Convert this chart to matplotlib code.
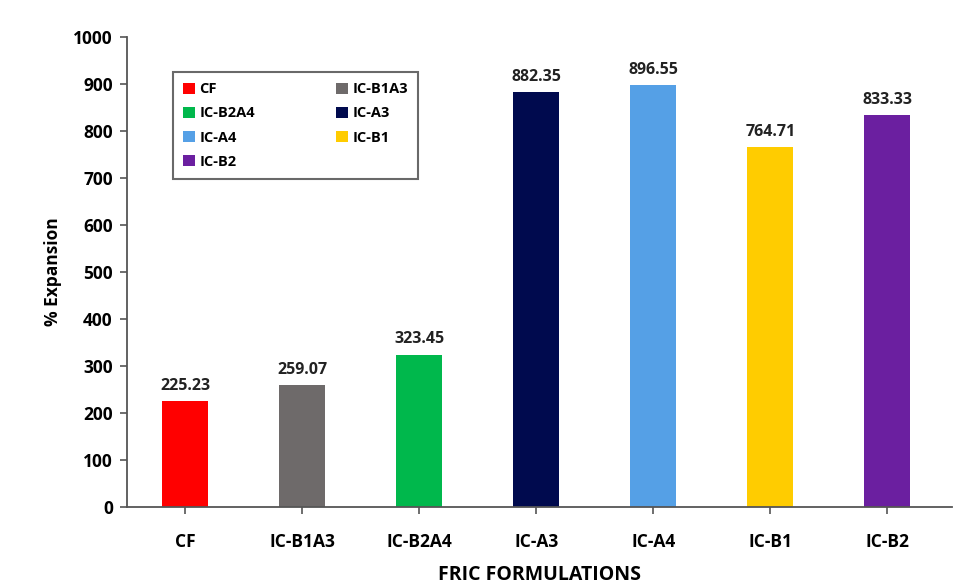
import matplotlib
matplotlib.use("Agg")
import matplotlib.pyplot as plt
from matplotlib.patches import Patch

categories = ["CF", "IC-B1A3", "IC-B2A4", "IC-A3", "IC-A4", "IC-B1", "IC-B2"]
values = [225.23, 259.07, 323.45, 882.35, 896.55, 764.71, 833.33]
colors = ["#FF0000", "#6E6A6A", "#00B84C", "#000A4E", "#55A0E6", "#FFCC00", "#6B1FA0"]
y_ticks = [0, 100, 200, 300, 400, 500, 600, 700, 800, 900, 1000]

plt.rcParams["font.family"] = ["Open Sans", "DejaVu Sans"]
plt.rcParams["font.weight"] = "bold"

fig = plt.figure(figsize=(9.75, 5.84), dpi=100)
ax = fig.add_axes([0.130, 0.132, 0.846, 0.805])

x = list(range(len(categories)))
bars = ax.bar(x, values, width=0.39, color=colors, zorder=2)

for xi, v in zip(x, values):
    ax.text(xi, v + 16, f"{v:.2f}", ha="center", va="bottom",
            fontsize=11.5, fontweight="bold", color="#222222")

ax.set_xlim(-0.5, len(categories) - 0.45)
ax.set_ylim(0, 1000)
ax.set_yticks(y_ticks)
ax.set_yticklabels([str(t) for t in y_ticks], fontsize=12.5, fontweight="bold")
ax.set_xticks(x)
ax.set_xticklabels(categories, fontsize=12.5, fontweight="bold")

for side in ("top", "right"):
    ax.spines[side].set_visible(False)
for side in ("left", "bottom"):
    ax.spines[side].set_color("#555555")
    ax.spines[side].set_linewidth(1.3)
ax.spines["left"].set_bounds(0, 1000)
ax.tick_params(axis="both", direction="out", length=5, width=1.2, color="#555555")
ax.tick_params(axis="x", pad=14)
ax.tick_params(axis="y", pad=5)

ax.set_ylabel("% Expansion", fontsize=12.5, fontweight="bold", labelpad=8)
ax.set_xlabel("FRIC FORMULATIONS", fontsize=14, fontweight="bold", labelpad=10)

# two-column legend filled row by row
handles = [Patch(facecolor=c, edgecolor="none") for c in colors]
order = [0, 2, 4, 6, 1, 3, 5]
leg = ax.legend([handles[i] for i in order], [categories[i] for i in order],
                ncol=2, loc="upper left", bbox_to_anchor=(0.056, 0.925),
                fontsize=10.5, frameon=True, fancybox=False,
                handlelength=0.8, handleheight=0.8, handletextpad=0.3,
                columnspacing=5.6, labelspacing=0.7, borderpad=0.7,
                borderaxespad=0.0)
leg.get_frame().set_edgecolor("#444444")
leg.get_frame().set_linewidth(1.5)
for t in leg.get_texts():
    t.set_fontweight("bold")

fig.savefig("out.png", dpi=100)
